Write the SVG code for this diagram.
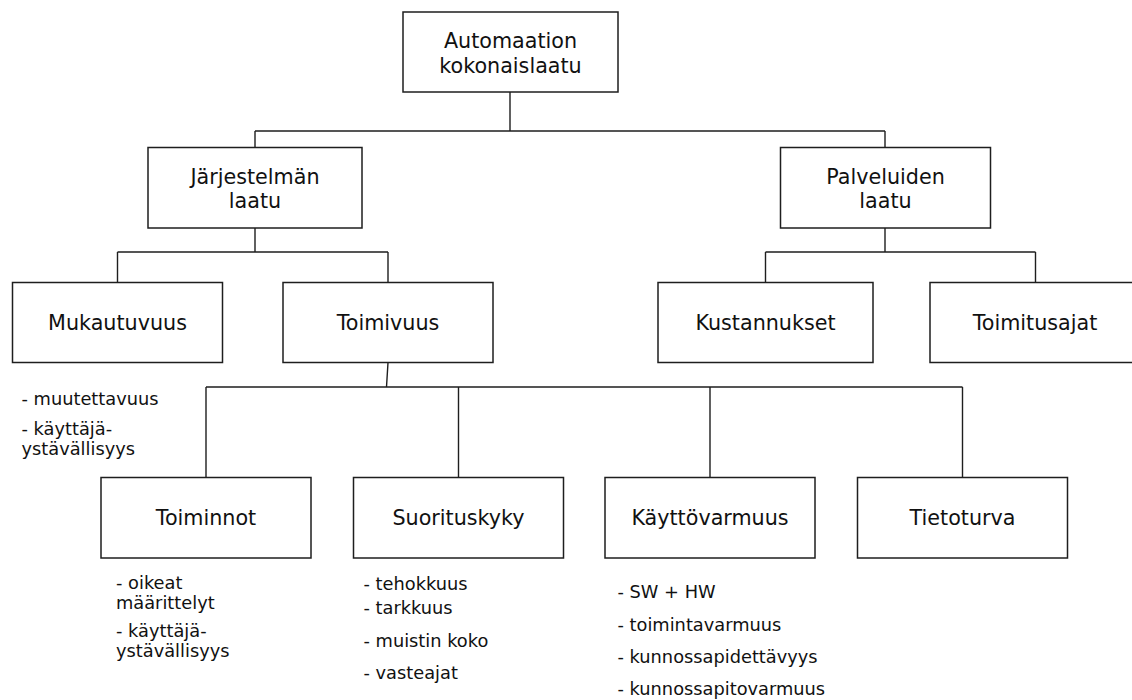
<svg xmlns="http://www.w3.org/2000/svg" width="1132" height="700" viewBox="0 0 1132 700">
  <style>
    .box { fill: #ffffff; stroke: #1e1e1e; stroke-width: 1.5; }
    .conn { fill: none; stroke: #1e1e1e; stroke-width: 1.4; }
    .lbl { font-family: "DejaVu Sans", sans-serif; font-size: 20.7px; fill: #111111; text-anchor: middle; }
    .note { font-family: "DejaVu Sans", sans-serif; font-size: 17.8px; fill: #111111; }
  </style>
  <rect width="1132" height="700" fill="#ffffff"/>

  <!-- tree connectors -->
  <g id="connectors">
    <path class="conn" d="M510,92 V131 M255,131 H885 M255,131 V148 M885,131 V148"/>
    <path class="conn" d="M255,228 V252 M117.5,252 H388 M117.5,252 V282.5 M388,252 V282.5"/>
    <path class="conn" d="M885,228 V252 M765.5,252 H1035.5 M765.5,252 V282.5 M1035.5,252 V282.5"/>
    <path class="conn" d="M388,362.5 L386.5,387 M206,387 H962.5 M206,387 V477.5 M458.5,387 V477.5 M710,387 V477.5 M962.5,387 V477.5"/>
  </g>

  <g id="automaation-kokonaislaatu">
    <rect class="box" x="403" y="12" width="215" height="80"/>
    <text class="lbl" x="510.5" y="47.5">Automaation</text>
    <text class="lbl" x="510.5" y="72.5">kokonaislaatu</text>
  </g>

  <g id="jarjestelman-laatu">
    <rect class="box" x="148" y="147.5" width="214" height="80.5"/>
    <text class="lbl" x="255" y="183.5">Järjestelmän</text>
    <text class="lbl" x="255" y="207.5">laatu</text>
  </g>

  <g id="palveluiden-laatu">
    <rect class="box" x="780.5" y="147.5" width="210" height="80.5"/>
    <text class="lbl" x="885.5" y="183.5">Palveluiden</text>
    <text class="lbl" x="885.5" y="207.5">laatu</text>
  </g>

  <g id="mukautuvuus">
    <rect class="box" x="12.5" y="282.5" width="210" height="80"/>
    <text class="lbl" x="117.5" y="330">Mukautuvuus</text>
    <text class="note" x="21.5" y="405">- muutettavuus</text>
    <text class="note" x="21.5" y="435">- käyttäjä-</text>
    <text class="note" x="21.5" y="455">ystävällisyys</text>
  </g>

  <g id="toimivuus">
    <rect class="box" x="283" y="282.5" width="210" height="80"/>
    <text class="lbl" x="388" y="330">Toimivuus</text>
  </g>

  <g id="kustannukset">
    <rect class="box" x="658" y="282.5" width="215" height="80"/>
    <text class="lbl" x="765.5" y="330">Kustannukset</text>
  </g>

  <g id="toimitusajat">
    <rect class="box" x="930" y="282.5" width="210" height="80"/>
    <text class="lbl" x="1035" y="330">Toimitusajat</text>
  </g>

  <g id="toiminnot">
    <rect class="box" x="101" y="477.5" width="210" height="80.5"/>
    <text class="lbl" x="206" y="525">Toiminnot</text>
    <text class="note" x="116" y="588.5">- oikeat</text>
    <text class="note" x="116" y="608.5">määrittelyt</text>
    <text class="note" x="116" y="636.5">- käyttäjä-</text>
    <text class="note" x="116" y="656.5">ystävällisyys</text>
  </g>

  <g id="suorituskyky">
    <rect class="box" x="353.5" y="477.5" width="210" height="80.5"/>
    <text class="lbl" x="458.5" y="525">Suorituskyky</text>
    <text class="note" x="363.5" y="590">- tehokkuus</text>
    <text class="note" x="363.5" y="614">- tarkkuus</text>
    <text class="note" x="363.5" y="646.5">- muistin koko</text>
    <text class="note" x="363.5" y="679">- vasteajat</text>
  </g>

  <g id="kayttovarmuus">
    <rect class="box" x="605" y="477.5" width="210" height="80.5"/>
    <text class="lbl" x="710" y="525">Käyttövarmuus</text>
    <text class="note" x="617.5" y="598">- SW + HW</text>
    <text class="note" x="617.5" y="630.5">- toimintavarmuus</text>
    <text class="note" x="617.5" y="662.5">- kunnossapidettävyys</text>
    <text class="note" x="617.5" y="695">- kunnossapitovarmuus</text>
  </g>

  <g id="tietoturva">
    <rect class="box" x="857.5" y="477.5" width="210" height="80.5"/>
    <text class="lbl" x="962.5" y="525">Tietoturva</text>
  </g>
</svg>
